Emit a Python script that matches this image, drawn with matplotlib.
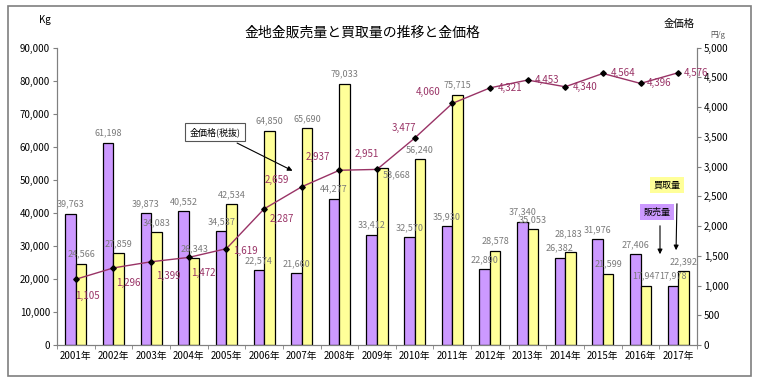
#Gold bullion sales / purchase volume (bars) and gold price (line), 2001-2017

import matplotlib
matplotlib.use("Agg")
from matplotlib import pyplot as plt
from matplotlib.patches import Rectangle
import numpy as np

plt.rcParams['font.family'] = ['Noto Sans CJK JP', 'DejaVu Sans']

years = ["2001年", "2002年", "2003年", "2004年", "2005年", "2006年", "2007年", "2008年", "2009年",
         "2010年", "2011年", "2012年", "2013年", "2014年", "2015年", "2016年", "2017年"]
sales = [39763, 61198, 39873, 40552, 34537, 22574, 21660, 44277, 33412,
         32570, 35930, 22890, 37340, 26382, 31976, 27406, 17978]
purchases = [24566, 27859, 34083, 26343, 42534, 64850, 65690, 79033, 53668,
             56240, 75715, 28578, 35053, 28183, 21599, 17947, 22392]
price = [1105, 1296, 1399, 1472, 1619, 2287, 2659, 2937, 2951,
         3477, 4060, 4321, 4453, 4340, 4564, 4396, 4576]

# offsets (pixels) of the price labels from their points
price_off = [(12, -17), (15, -15), (17, -14), (15, -16), (19, -2), (18, -10), (-25, 7), (-22, 13), (-10, 15),
             (-11, 10), (-24, 11), (20, 0), (19, 0), (20, 0), (20, 0), (19, 0), (18, 0)]
# a few purchase labels sit off the usual spot (index: dx, dy in pixels)
purch_off = {8: (14, -12), 13: (-2, 14)}

purple = '#cc99ff'
yellow = '#ffff99'
line_col = '#993366'
grey = '#808080'

fig = plt.figure(figsize=(7.57, 3.80), dpi=100)
W, H = 757, 380

# outer frame
fig.patches.append(Rectangle((8 / W, 1 - 376 / H), (751 - 8) / W, (376 - 6) / H,
                             transform=fig.transFigure, fill=False, edgecolor='#7f7f7f', lw=1.2))

ax = fig.add_axes([57 / W, 35 / H, (697 - 57) / W, (345 - 47.5) / H])
ax2 = ax.twinx()

x = np.arange(len(years))
bw = 0.28
ax.bar(x - bw / 2, sales, bw, color=purple, edgecolor='black', lw=0.9, zorder=2)
ax.bar(x + bw / 2, purchases, bw, color=yellow, edgecolor='black', lw=0.9, zorder=2)

for xi, v in zip(x, sales):
    ax.annotate(f"{v:,}", (xi - bw / 2, v), xytext=(0, 5), textcoords='offset pixels',
                ha='center', va='bottom', fontsize=6.5, color='#7a7a7a')
for i, (xi, v) in enumerate(zip(x, purchases)):
    dx, dy = purch_off.get(i, (0, 5))
    ax.annotate(f"{v:,}", (xi + bw / 2, v), xytext=(dx, dy), textcoords='offset pixels',
                ha='center', va='bottom', fontsize=6.5, color='#7a7a7a')

ax2.plot(x, price, color=line_col, lw=1, marker='D', ms=2.8, mfc='black', mec='black', zorder=5)
for xi, v, (dx, dy) in zip(x, price, price_off):
    ax2.annotate(f"{v:,}", (xi, v), xytext=(dx, dy), textcoords='offset pixels',
                 ha='center', va='center', fontsize=7, color=line_col)

ax.set_xlim(-0.5, len(years) - 0.5)
ax.set_ylim(0, 90000)
ax2.set_ylim(0, 5000)
ax.set_yticks(np.arange(0, 90001, 10000))
ax.set_yticklabels([f"{v:,}" for v in range(0, 90001, 10000)])
ax2.set_yticks(np.arange(0, 5001, 500))
ax2.set_yticklabels([f"{v:,}" for v in range(0, 5001, 500)])
ax.set_xticks(x)
ax.set_xticklabels(years)
ax.set_xticks(np.arange(-0.5, len(years), 1), minor=True)

for a in (ax, ax2):
    a.spines['top'].set_visible(False)
    for s in ('left', 'right', 'bottom'):
        a.spines[s].set_color(grey)
    a.tick_params(axis='y', labelsize=7, length=3, color=grey, pad=2, labelcolor='black')
    a.set_facecolor('none')
ax.tick_params(axis='x', which='major', length=0, labelsize=7, pad=4)
ax.tick_params(axis='x', which='minor', length=3, color=grey)

# titles and unit labels
fig.text(362 / W, 1 - 33 / H, "金地金販売量と買取量の推移と金価格", ha='center', va='center', fontsize=10)
fig.text(45 / W, 1 - 20 / H, "Kg", ha='center', va='center', fontsize=7)
fig.text(679 / W, 1 - 24 / H, "金価格", ha='center', va='center', fontsize=7.5)
fig.text(718 / W, 1 - 35 / H, "円/g", ha='center', va='center', fontsize=5.5, color='#555555')

# callouts
ax.annotate("金価格(税抜)", xy=(295, H - 172), xycoords='figure pixels',
            xytext=(215, H - 132), textcoords='figure pixels', ha='center', va='center', fontsize=6.5,
            bbox=dict(boxstyle='square,pad=0.5', fc='white', ec='#555555', lw=0.8),
            arrowprops=dict(arrowstyle='-|>', color='black', lw=0.8, mutation_scale=7))
ax.annotate("買取量", xy=(676, H - 253), xycoords='figure pixels',
            xytext=(667, H - 185), textcoords='figure pixels', ha='center', va='center', fontsize=6.5,
            bbox=dict(boxstyle='square,pad=0.4', fc=yellow, ec='none'))
ax.annotate("", xy=(676, H - 253), xycoords='figure pixels',
            xytext=(677, H - 201), textcoords='figure pixels',
            arrowprops=dict(arrowstyle='-|>', color='black', lw=0.8, mutation_scale=7))
ax.annotate("販売量", xy=(660, H - 257), xycoords='figure pixels',
            xytext=(657, H - 212), textcoords='figure pixels', ha='center', va='center', fontsize=6.5,
            bbox=dict(boxstyle='square,pad=0.4', fc=purple, ec='none'))
ax.annotate("", xy=(660, H - 257), xycoords='figure pixels',
            xytext=(660, H - 223), textcoords='figure pixels',
            arrowprops=dict(arrowstyle='-|>', color='black', lw=0.8, mutation_scale=7))

fig.savefig("out.png", dpi=100)
